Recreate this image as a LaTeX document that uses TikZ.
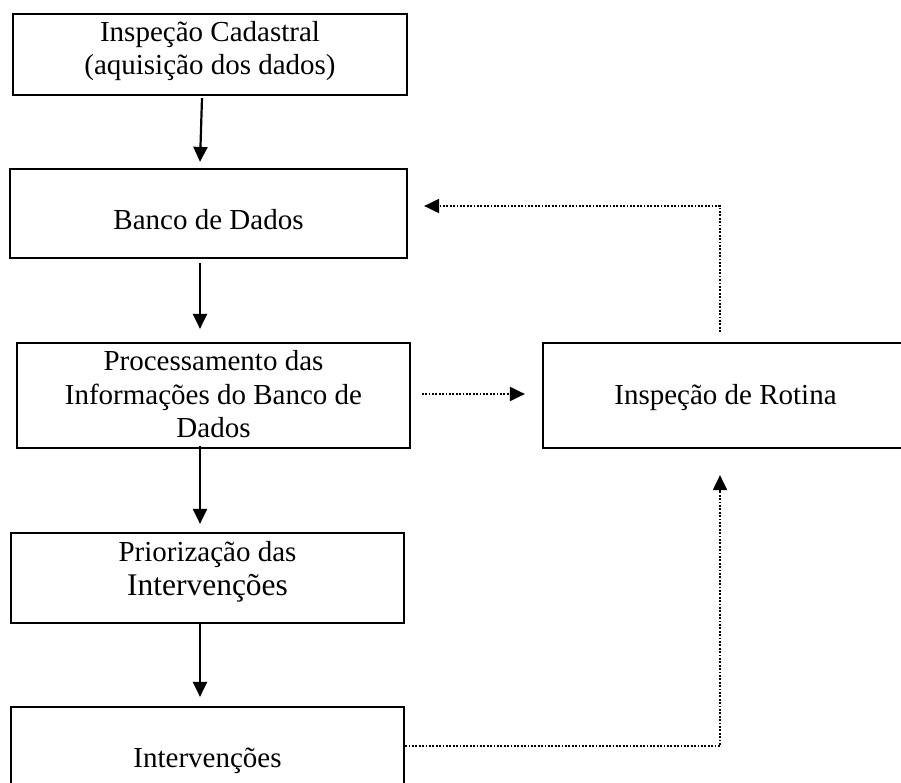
\documentclass[tikz,border=0pt]{standalone}
\usepackage{fontspec}
\setmainfont{Liberation Serif}
\usetikzlibrary{arrows.meta}
\newcommand\boxtext[2]{\raisebox{#1}[0pt][0pt]{\begin{tabular}[t]{@{}c@{}}#2\end{tabular}}}
\begin{document}
\begin{tikzpicture}[x=1pt,y=-1pt,
  stepbox/.style={draw=black,line width=2.2pt,inner sep=0pt,rectangle,
    font=\fontsize{29}{33.3}\selectfont},
  arr/.style={line width=2.2pt,-{Triangle[length=15pt,width=14pt]}},
  dotarr/.style={line width=2pt,dash pattern=on 1.8pt off 1.6pt,
    -{Triangle[length=15pt,width=14pt]}}]
\useasboundingbox (0,0) rectangle (901,783);
\clip (0,0) rectangle (901,783);
\node[stepbox,minimum width=394pt,minimum height=81pt] (b1) at (210,54.5)
  {\boxtext{12.8pt}{Inspeção Cadastral\\(aquisição dos dados)}};
\node[stepbox,minimum width=397pt,minimum height=89pt] (b2) at (208.5,213.5)
  {\boxtext{-16.5pt}{Banco de Dados}};
\node[stepbox,minimum width=393pt,minimum height=105pt] (b3) at (213.5,395.5)
  {\boxtext{24.8pt}{Processamento das\\Informações do Banco de\\Dados}};
\node[stepbox,minimum width=393pt,minimum height=90pt] (b4) at (207.5,578)
  {\boxtext{16.3pt}{Priorização das\\{\fontsize{31.5}{33.3}\selectfont Intervenções}}};
\node[stepbox,minimum width=393pt,minimum height=103pt] (b5) at (207.5,758.5)
  {\boxtext{-9pt}{Intervenções}};
\node[stepbox,minimum width=380pt,minimum height=105pt] (b6) at (733,395.5)
  {\hspace*{-15pt}\boxtext{-8.5pt}{Inspeção de Rotina}};
% solid arrows
\draw[arr] ([xshift=-8pt,yshift=-2pt]b1.south) -- ([xshift=-8.5pt,yshift=6pt]b2.north);
\draw[arr] ([xshift=-8.5pt,yshift=-4pt]b2.south) -- ([xshift=-13.5pt,yshift=13pt]b3.north);
\draw[arr] ([xshift=-13.5pt,yshift=3pt]b3.south) -- ([xshift=-7.5pt,yshift=8pt]b4.north);
\draw[arr] ([xshift=-7.5pt,yshift=2pt]b4.south) -- ([xshift=-7.5pt,yshift=9pt]b5.north);
% dotted arrows
\draw[dotarr] ([xshift=10.7pt,yshift=1.5pt]b3.east) -- ([xshift=-17pt,yshift=1.5pt]b6.west);
\draw[dotarr] ([xshift=-13pt,yshift=10pt]b6.north) |- ([xshift=16pt,yshift=7.5pt]b2.east);
\draw[dotarr] ([yshift=12.5pt]b5.east) -| ([xshift=-13pt,yshift=-26pt]b6.south);
\end{tikzpicture}
\end{document}
